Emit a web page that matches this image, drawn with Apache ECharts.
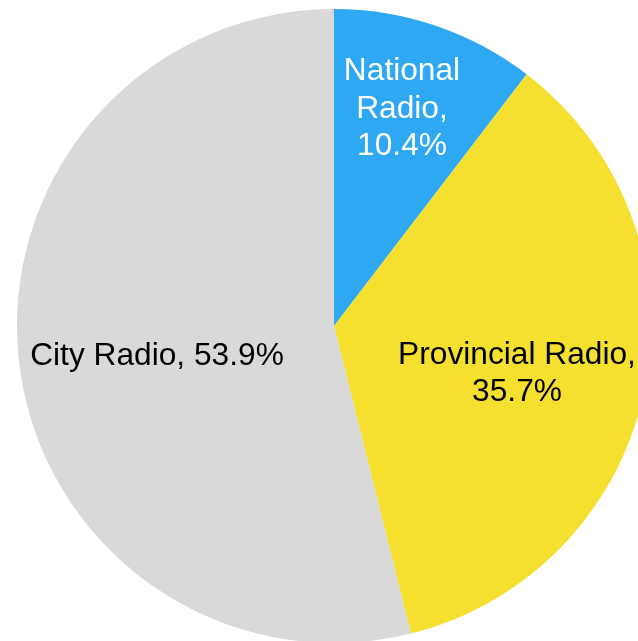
<!DOCTYPE html>
<html>
<head>
<meta charset="utf-8">
<script src="https://cdn.jsdelivr.net/npm/echarts@6/dist/echarts.min.js"></script>
<style>html,body{margin:0;padding:0;background:#fff;}#c{width:638px;height:641px;}</style>
</head>
<body>
<div id="c"></div>
<script>
const categories = ["National Radio", "Provincial Radio", "City Radio"];
const values = [10.4, 35.7, 53.9];
const labelTexts = ["National\nRadio,\n10.4%", "Provincial Radio,\n35.7%", "City Radio, 53.9%"];
const colors = ["#2FA8F3", "#F5E02F", "#D9D9D9"];
const labelColors = ["#ffffff", "#000000", "#000000"];
const labelPos = [[402, 109], [517, 374], [157, 356]];

const chart = echarts.init(document.getElementById('c'));
chart.setOption({
  animation: false,
  backgroundColor: '#ffffff',
  series: [{
    type: 'pie',
    center: [334, 326],
    radius: [0, 317],
    startAngle: 90,
    clockwise: true,
    silent: true,
    itemStyle: { borderWidth: 0 },
    label: {
      show: true,
      position: 'inside',
      fontFamily: "'Liberation Sans', Arial, sans-serif",
      fontSize: 31.7,
      lineHeight: 37.5,
      align: 'center'
    },
    labelLayout: function (params) {
      const p = labelPos[params.dataIndex];
      return { x: p[0], y: p[1], align: 'center', verticalAlign: 'middle' };
    },
    data: categories.map((c, i) => ({
      name: c,
      value: values[i],
      itemStyle: { color: colors[i] },
      label: { formatter: labelTexts[i], color: labelColors[i] }
    }))
  }]
});
</script>
</body>
</html>
